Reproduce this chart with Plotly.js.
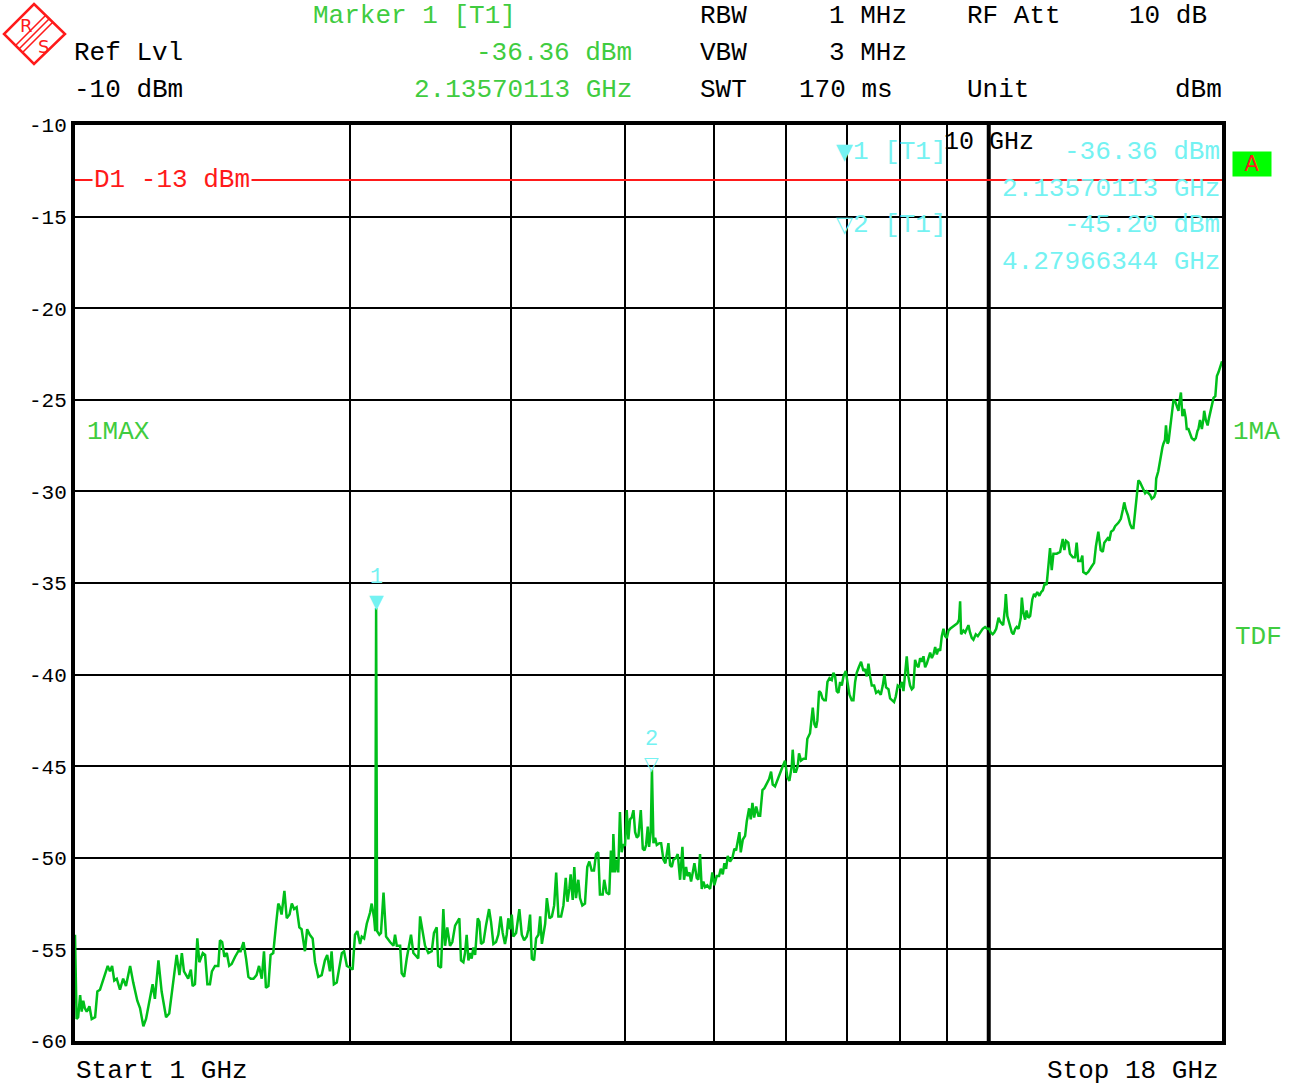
<!DOCTYPE html>
<html>
<head>
<meta charset="utf-8">
<script src="https://cdn.plot.ly/plotly-3.0.1.min.js"></script>
<style>
html,body{margin:0;padding:0;background:#fff;}
#chart{width:1293px;height:1091px;}
</style>
</head>
<body>
<div id="chart"></div>
<script>
// ---- Data ----
const freqGHz = [
1.000,1.004,1.008,1.013,1.017,1.021,1.025,1.030,1.037,1.043,1.052,1.058,1.065,1.072,1.079,1.086,1.092,1.098,1.104,1.111,
1.120,1.129,1.137,1.149,1.158,1.170,1.178,1.188,1.196,1.206,1.216,1.223,1.234,1.244,1.258,1.268,1.279,1.292,1.301,1.309,
1.316,1.330,1.339,1.345,1.353,1.361,1.368,1.380,1.388,1.396,1.405,1.412,1.423,1.435,1.441,1.449,1.457,1.466,1.475,1.484,
1.497,1.509,1.518,1.529,1.539,1.548,1.557,1.568,1.580,1.590,1.601,1.610,1.618,1.628,1.637,1.648,1.660,1.669,1.676,1.683,
1.695,1.705,1.717,1.727,1.737,1.748,1.760,1.770,1.785,1.795,1.807,1.820,1.831,1.846,1.862,1.877,1.888,1.901,1.909,1.920,
1.934,1.947,1.959,1.970,1.984,2.000,2.013,2.025,2.037,2.051,2.060,2.072,2.086,2.103,2.112,2.125,2.131,2.13570113,2.141,2.153,
2.162,2.176,2.190,2.212,2.231,2.240,2.250,2.269,2.278,2.292,2.307,2.332,2.346,2.366,2.375,2.386,2.402,2.416,2.436,2.457,
2.471,2.488,2.498,2.515,2.530,2.541,2.555,2.573,2.588,2.606,2.634,2.645,2.661,2.672,2.683,2.695,2.706,2.717,2.729,2.741,
2.759,2.771,2.782,2.799,2.817,2.839,2.853,2.870,2.889,2.906,2.923,2.938,2.955,2.968,2.980,2.993,3.006,3.018,3.039,3.064,
3.083,3.101,3.122,3.135,3.148,3.162,3.180,3.196,3.215,3.229,3.243,3.256,3.270,3.284,3.306,3.326,3.345,3.362,3.381,3.404,
3.424,3.444,3.459,3.475,3.487,3.505,3.519,3.534,3.555,3.570,3.591,3.615,3.636,3.655,3.677,3.698,3.717,3.738,3.754,3.780,
3.795,3.817,3.843,3.859,3.876,3.883,3.899,3.915,3.931,3.948,3.965,3.981,3.999,4.016,4.033,4.050,4.067,4.085,4.102,4.120,
4.137,4.161,4.182,4.200,4.217,4.235,4.249,4.267,4.27966344,4.296,4.314,4.332,4.361,4.380,4.405,4.427,4.461,4.480,4.499,4.518,
4.548,4.567,4.594,4.621,4.640,4.664,4.680,4.704,4.723,4.743,4.763,4.791,4.811,4.831,4.852,4.872,4.893,4.920,4.955,4.983,
5.008,5.038,5.068,5.090,5.116,5.137,5.159,5.180,5.211,5.242,5.268,5.290,5.313,5.335,5.353,5.381,5.412,5.435,5.467,5.490,
5.513,5.537,5.565,5.597,5.621,5.654,5.682,5.715,5.749,5.778,5.802,5.836,5.875,5.910,5.950,5.985,6.020,6.051,6.087,6.102,
6.126,6.153,6.179,6.200,6.231,6.268,6.305,6.331,6.374,6.418,6.445,6.472,6.493,6.521,6.549,6.576,6.604,6.632,6.660,6.694,
6.733,6.761,6.790,6.818,6.847,6.876,6.905,6.934,6.975,7.004,7.040,7.080,7.111,7.141,7.170,7.207,7.249,7.292,7.322,7.354,
7.385,7.416,7.447,7.491,7.529,7.573,7.618,7.656,7.688,7.720,7.767,7.799,7.845,7.877,7.911,7.951,7.997,8.032,8.066,8.099,
8.133,8.167,8.202,8.237,8.271,8.306,8.342,8.377,8.412,8.447,8.483,8.519,8.555,8.627,8.664,8.700,8.737,8.774,8.810,8.847,
8.884,8.922,8.959,8.997,9.035,9.073,9.134,9.187,9.241,9.280,9.304,9.327,9.381,9.422,9.461,9.501,9.539,9.581,9.621,9.679,
9.728,9.784,9.849,9.908,9.966,10.007,10.051,10.10,10.14,10.19,10.25,10.29,10.33,10.37,10.42,10.44,10.48,10.53,10.60,10.64,
10.69,10.73,10.78,10.84,10.87,10.91,10.96,11.00,11.05,11.10,11.16,11.21,11.25,11.30,11.36,11.41,11.46,11.52,11.57,11.62,
11.67,11.72,11.77,11.87,11.97,12.05,12.10,12.15,12.22,12.27,12.36,12.43,12.48,12.53,12.61,12.66,12.69,12.78,12.85,12.96,
13.04,13.10,13.18,13.26,13.33,13.38,13.46,13.52,13.55,13.61,13.69,13.75,13.87,13.95,14.02,14.07,14.13,14.20,14.28,14.34,
14.40,14.46,14.52,14.58,14.64,14.71,14.77,14.83,14.89,14.95,15.02,15.08,15.17,15.22,15.25,15.33,15.43,15.49,15.53,15.59,
15.63,15.69,15.73,15.79,15.86,15.93,16.00,16.06,16.13,16.17,16.23,16.29,16.36,16.43,16.47,16.54,16.61,16.68,16.78,16.85,
16.92,16.96,17.03,17.11,17.18,17.21,17.28,17.36,17.42,17.47,17.55,17.62,17.70,17.77,17.84,17.92,18.00
];
const levelDbm = [
-54.2,-58.8,-58.7,-57.5,-58.4,-57.8,-58.2,-58.4,-58.1,-58.8,-58.7,-57.3,-57.2,-56.8,-56.4,-55.9,-56.2,-55.9,-56.7,-56.6,
-57.2,-56.6,-57.0,-55.9,-56.8,-57.8,-58.2,-59.2,-58.8,-57.8,-56.9,-57.7,-55.6,-57.3,-58.7,-58.5,-56.9,-55.3,-56.4,-55.2,
-56.2,-56.6,-56.1,-57.0,-56.9,-54.4,-55.7,-55.2,-55.3,-56.9,-56.9,-56.2,-55.9,-55.9,-54.5,-54.6,-55.4,-55.2,-55.9,-55.8,
-55.4,-55.1,-55.1,-54.6,-55.5,-56.5,-56.6,-56.6,-56.4,-55.9,-56.6,-55.1,-57.1,-57.0,-55.3,-55.2,-53.6,-52.5,-52.7,-53.1,
-51.8,-53.3,-53.1,-52.5,-52.8,-52.7,-53.8,-53.9,-55.1,-53.9,-54.2,-54.4,-55.7,-56.5,-56.4,-55.6,-55.3,-56.2,-55.1,-56.9,
-56.8,-55.9,-55.2,-55.1,-55.9,-56.0,-56.1,-54.2,-54.0,-54.7,-54.3,-54.4,-53.6,-53.0,-52.5,-53.3,-54.0,-36.36,-54.0,-54.2,
-54.1,-51.9,-54.3,-54.6,-54.8,-54.2,-54.8,-54.8,-56.3,-56.5,-55.5,-54.2,-55.2,-55.4,-55.5,-53.2,-54.1,-54.8,-55.2,-55.1,
-54.1,-53.8,-55.9,-56.0,-52.8,-54.8,-53.8,-54.8,-54.6,-53.7,-53.3,-55.6,-55.7,-55.2,-54.2,-55.6,-55.2,-55.5,-54.9,-55.3,
-53.3,-53.5,-54.7,-54.6,-53.7,-52.8,-53.5,-54.7,-54.6,-54.2,-53.2,-54.1,-54.7,-54.2,-53.3,-53.9,-53.1,-54.3,-54.1,-52.8,
-54.2,-54.5,-54.3,-53.9,-53.1,-55.5,-55.6,-54.4,-54.2,-53.2,-54.7,-54.1,-53.6,-52.2,-53.3,-53.2,-52.6,-50.8,-53.2,-53.2,
-52.6,-51.1,-52.4,-51.7,-50.9,-52.3,-50.5,-52.2,-51.2,-52.2,-52.6,-52.5,-50.5,-50.2,-50.7,-50.7,-49.8,-49.7,-52.0,-52.0,
-51.2,-51.9,-52.0,-49.6,-50.8,-48.7,-50.8,-50.1,-50.8,-47.5,-49.7,-49.3,-49.3,-47.4,-49.0,-47.9,-47.8,-47.4,-48.6,-48.9,
-48.8,-47.4,-49.5,-49.6,-49.3,-48.3,-49.4,-48.6,-45.20,-49.2,-48.9,-49.3,-49.2,-49.2,-50.1,-50.3,-49.2,-50.4,-50.5,-50.1,
-50.0,-49.8,-51.2,-49.4,-51.2,-50.5,-51.0,-50.8,-51.3,-50.8,-50.3,-51.1,-51.2,-49.8,-51.7,-51.3,-51.6,-51.5,-51.7,-50.8,
-51.5,-51.0,-51.0,-50.6,-50.9,-50.3,-50.6,-49.9,-50.2,-50.0,-49.5,-49.6,-49.1,-48.6,-49.7,-49.0,-48.8,-48.0,-47.3,-47.9,
-47.0,-47.8,-47.2,-47.7,-47.7,-46.3,-46.2,-45.9,-45.7,-45.3,-46.0,-46.1,-45.7,-45.3,-45.0,-44.7,-45.6,-45.8,-45.0,-44.1,
-45.3,-45.3,-45.0,-44.3,-44.7,-44.6,-44.6,-43.5,-43.2,-41.8,-42.7,-42.9,-42.5,-40.9,-41.0,-41.3,-41.4,-41.4,-40.4,-40.2,
-40.3,-39.9,-40.1,-40.9,-41.0,-40.4,-40.6,-40.1,-39.8,-40.4,-41.1,-41.4,-41.4,-40.4,-39.9,-39.6,-39.3,-39.8,-39.7,-40.1,
-39.4,-40.1,-40.6,-40.6,-41.0,-40.9,-41.1,-40.6,-40.0,-40.7,-40.8,-41.3,-41.4,-41.5,-41.2,-40.6,-40.7,-40.4,-40.9,-39.9,
-39.0,-40.1,-40.6,-40.8,-40.7,-39.2,-39.5,-39.6,-39.1,-39.3,-39.0,-39.6,-39.4,-38.8,-39.1,-38.9,-38.5,-38.9,-38.6,-38.7,
-37.9,-37.5,-37.9,-38.0,-37.6,-37.5,-37.4,-37.3,-37.2,-37.0,-36.0,-37.8,-37.6,-37.7,-37.5,-37.3,-37.7,-38.0,-38.1,-37.8,
-37.9,-37.7,-37.5,-37.4,-37.5,-37.5,-37.7,-37.8,-37.7,-37.5,-36.9,-37.1,-37.2,-37.3,-36.3,-35.6,-36.8,-37.2,-37.7,-37.8,
-37.5,-37.4,-37.5,-36.9,-35.8,-36.6,-37.0,-36.5,-36.9,-36.8,-35.9,-35.6,-35.7,-35.5,-35.7,-35.5,-35.4,-35.0,-35.1,-34.1,
-33.1,-34.3,-33.4,-33.4,-33.3,-32.6,-33.2,-32.7,-32.8,-33.4,-33.6,-33.6,-32.8,-33.8,-33.8,-33.5,-34.4,-34.5,-34.4,-34.1,
-33.9,-33.0,-32.2,-33.2,-33.3,-32.8,-32.6,-32.5,-32.7,-32.2,-32.1,-31.9,-31.7,-31.5,-31.0,-30.6,-31.0,-31.3,-31.8,-32.0,
-32.0,-31.0,-30.0,-29.4,-29.5,-29.7,-29.9,-30.1,-30.0,-30.1,-30.2,-30.4,-30.3,-30.1,-29.3,-28.9,-28.0,-27.6,-27.4,-27.2,
-26.4,-27.4,-27.3,-26.5,-25.6,-25.0,-25.1,-25.4,-25.6,-25.1,-24.6,-25.9,-25.5,-26.0,-26.6,-26.6,-26.9,-27.1,-27.2,-27.1,
-26.7,-26.6,-26.1,-26.6,-26.0,-25.6,-26.1,-26.4,-26.0,-25.7,-25.4,-24.9,-24.8,-23.7,-23.5,-23.2,-22.9
];
const markerFreq = [2.13570113, 4.27966344];
const markerLevel = [-36.36, -45.20];
const markerLabel = ["1", "2"];
const displayLine = -13;          // D1 in dBm
const startGHz = 1, stopGHz = 18;
const refLevel = -10, bottomLevel = -60;
const yTicks = [-10,-15,-20,-25,-30,-35,-40,-45,-50,-55,-60];
const xGrid = [2,3,4,5,6,7,8,9,10];
const decadeGHz = 10;

// ---- Layout helpers (pixel -> paper) ----
const W = 1293, H = 1091, ML = 75, MR = 71, MT = 125, MB = 50;
const PW = W - ML - MR, PH = H - MT - MB;
const PX = p => (p - ML) / PW;
const PY = p => (H - MB - p) / PH;
const logPaper = f => (Math.log10(f) - Math.log10(startGHz)) / (Math.log10(stopGHz) - Math.log10(startGHz));

const MONO = 'Liberation Mono, DejaVu Sans Mono, monospace';
const GREEN_TXT = '#40cc40';
const CYAN = '#74f2f2';
const RED = '#ff1a1a';
const FS = 26;

function txt(text, px, py, anchor, color, size, extra) {
  return Object.assign({
    text: text, xref: 'paper', yref: 'paper', x: PX(px), y: PY(py),
    xanchor: anchor, yanchor: 'middle', showarrow: false,
    font: {family: MONO, size: size || FS, color: color || '#000'}
  }, extra || {});
}

const TRI = s => '<span style="font-family:DejaVu Sans;font-size:22px">' + s + '</span>';

const annotations = [
  // header
  txt('Marker 1 [T1]', 311, 16, 'left', GREEN_TXT),
  txt('Ref Lvl', 72, 53, 'left', '#000'),
  txt('-10 dBm', 72, 90, 'left', '#000'),
  txt('-36.36 dBm', 634, 53, 'right', GREEN_TXT),
  txt('2.13570113 GHz', 634, 90, 'right', GREEN_TXT),
  txt('RBW', 698, 16, 'left'), txt('1 MHz', 909, 16, 'right'),
  txt('RF Att', 965, 16, 'left'), txt('10 dB', 1209, 16, 'right'),
  txt('VBW', 698, 53, 'left'), txt('3 MHz', 909, 53, 'right'),
  txt('SWT', 698, 90, 'left'), txt('170 ms', 895, 90, 'right'),
  txt('Unit', 965, 90, 'left'), txt('dBm', 1224, 90, 'right'),
  // in-plot marker info
  txt('10 GHz', 0, 142, 'center', '#000', 25, {xref: 'x', x: Math.log10(decadeGHz)}),
  txt(TRI('▼') + '1 [T1]', 834, 152, 'left', CYAN),
  txt('-36.36 dBm', 1222, 152, 'right', CYAN),
  txt('2.13570113 GHz', 1222, 189, 'right', CYAN),
  txt(TRI('▽') + '2 [T1]', 834, 225, 'left', CYAN),
  txt('-45.20 dBm', 1222, 225, 'right', CYAN),
  txt('4.27966344 GHz', 1222, 262, 'right', CYAN),
  // trace / display line labels
  txt('1MAX', 85, 432, 'left', GREEN_TXT),
  txt('1MA', 1231, 432, 'left', GREEN_TXT),
  txt('TDF', 1233, 637, 'left', GREEN_TXT),
  txt('A', 1252, 164, 'center', RED, 22, {bgcolor: '#00ff00', width: 38, height: 24, borderpad: 0, font: {family: 'DejaVu Sans', size: 21, color: RED}}),
  {text: 'D1 -13 dBm', xref: 'paper', yref: 'y', x: PX(92), y: displayLine, xanchor: 'left', yanchor: 'middle',
   showarrow: false, bgcolor: '#ffffff', borderpad: 1, font: {family: MONO, size: FS, color: RED}},
  // bottom
  txt('Start 1 GHz', 74, 1071, 'left'),
  txt('Stop 18 GHz', 1221, 1071, 'right'),
  // logo letters
  txt('R', 26, 25, 'center', RED, 18, {font: {family: 'DejaVu Sans', size: 18, color: RED}}),
  txt('S', 43, 46, 'center', RED, 18, {font: {family: 'DejaVu Sans', size: 18, color: RED}})
];

// marker symbols and numbers above the peaks
markerFreq.forEach((f, i) => {
  annotations.push({
    text: i === 0 ? '▼' : '▽', xref: 'x', yref: 'y', x: Math.log10(f), y: markerLevel[i],
    xanchor: 'center', yanchor: 'bottom', showarrow: false, borderpad: 0, yshift: -5,
    font: {family: 'DejaVu Sans', size: 19, color: CYAN}
  });
  annotations.push({
    text: markerLabel[i], xref: 'x', yref: 'y', x: Math.log10(f), y: markerLevel[i],
    xanchor: 'center', yanchor: 'bottom', showarrow: false, borderpad: 0, yshift: 17,
    font: {family: MONO, size: 22, color: CYAN}
  });
});

const shapes = [
  // display line D1
  {type: 'line', xref: 'paper', yref: 'y', x0: 0, x1: 1, y0: displayLine, y1: displayLine,
   line: {color: RED, width: 2}, layer: 'above'},
  // heavier 10 GHz grid line
  {type: 'line', xref: 'paper', yref: 'paper', x0: logPaper(decadeGHz), x1: logPaper(decadeGHz), y0: 0, y1: 1,
   line: {color: '#000', width: 4}, layer: 'below'},
  // R&S logo diamond
  {type: 'path', xref: 'paper', yref: 'paper',
   path: `M ${PX(34)},${PY(4)} L ${PX(65)},${PY(34)} L ${PX(34)},${PY(64)} L ${PX(4)},${PY(34)} Z`,
   line: {color: RED, width: 2.5}}
];
[-3.5, 0, 3.5].forEach(d => {
  shapes.push({type: 'line', xref: 'paper', yref: 'paper',
    x0: PX(19 + d), y0: PY(49 + d), x1: PX(49 + d), y1: PY(19 + d),
    line: {color: RED, width: 1.6}});
});

const trace = {
  x: freqGHz, y: levelDbm, type: 'scatter', mode: 'lines',
  line: {color: '#00bf1a', width: 2.5}, hoverinfo: 'skip'
};

const layout = {
  width: W, height: H,
  margin: {l: ML, r: MR, t: MT, b: MB, pad: 0},
  paper_bgcolor: '#fff', plot_bgcolor: '#fff',
  showlegend: false,
  xaxis: {
    type: 'log', range: [Math.log10(startGHz), Math.log10(stopGHz)],
    tickmode: 'array', tickvals: xGrid, showticklabels: false, ticks: '',
    showgrid: true, gridcolor: '#000', gridwidth: 2,
    showline: true, linecolor: '#000', linewidth: 4, mirror: true, zeroline: false
  },
  yaxis: {
    range: [bottomLevel, refLevel],
    tickmode: 'array', tickvals: yTicks, ticktext: yTicks.map(v => String(v)),
    ticks: '', showgrid: true, gridcolor: '#000', gridwidth: 2,
    showline: true, linecolor: '#000', linewidth: 4, mirror: true, zeroline: false,
    tickfont: {family: MONO, size: 21, color: '#000'}, ticklabelstandoff: 0
  },
  annotations: annotations,
  shapes: shapes
};

Plotly.newPlot('chart', [trace], layout, {displayModeBar: false, staticPlot: true});
</script>
</body>
</html>
